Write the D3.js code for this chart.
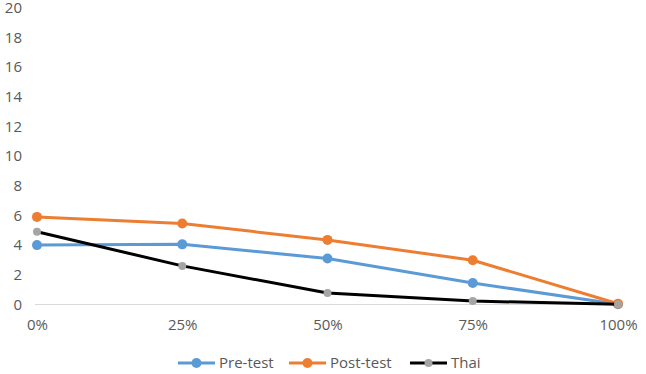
<!DOCTYPE html>
<html>
<head>
<meta charset="utf-8">
<script src="https://cdn.jsdelivr.net/npm/d3@7"></script>
<style>
  body { margin: 0; background: #fff; }
  text { font-family: "Open Sans", "Liberation Sans", sans-serif; fill: #595959; }
</style>
</head>
<body>
<div id="root"></div>
<script>
const categories = ["0%", "25%", "50%", "75%", "100%"];
const preTest = [4.0, 4.05, 3.1, 1.45, 0.02];
const postTest = [5.9, 5.45, 4.35, 2.98, 0.05];
const thai = [4.9, 2.6, 0.77, 0.23, 0.02];
const yTicks = [0, 2, 4, 6, 8, 10, 12, 14, 16, 18, 20];

const width = 646;
const height = 374;

const series = [
  { name: "Pre-test", values: preTest, color: "#5b9bd5", marker: "#5b9bd5", r: 5 },
  { name: "Post-test", values: postTest, color: "#ed7d31", marker: "#ed7d31", r: 5 },
  { name: "Thai", values: thai, color: "#000000", marker: "#a5a5a5", r: 4 }
];

const svg = d3.select("#root")
  .append("svg")
  .attr("width", width)
  .attr("height", height);

const x = d3.scalePoint().domain(categories).range([37, 618]);
const y = d3.scaleLinear().domain([0, 20]).range([304.5, 7.5]);

// y axis labels, no axis line
const yAxis = d3.axisLeft(y).tickValues(yTicks).tickSize(0).tickPadding(0);
svg.append("g")
  .attr("transform", "translate(22,0)")
  .call(yAxis)
  .call(g => g.select(".domain").remove())
  .selectAll("text")
  .style("font-size", "15px")
  .attr("text-anchor", "end")
  .attr("fill", "#595959");

// baseline
svg.append("line")
  .attr("x1", 35).attr("x2", 620)
  .attr("y1", y(0)).attr("y2", y(0))
  .attr("stroke", "#d9d9d9")
  .attr("stroke-width", 1);

// x axis labels
const xAxis = d3.axisBottom(x).tickSize(0).tickPadding(0);
svg.append("g")
  .attr("transform", `translate(0,${y(0) + 13})`)
  .call(xAxis)
  .call(g => g.select(".domain").remove())
  .selectAll("text")
  .style("font-size", "15px")
  .attr("dy", "0.8em")
  .attr("fill", "#595959");

const line = d3.line()
  .x((d, i) => x(categories[i]))
  .y(d => y(d));

// Lines and markers
series.forEach(s => {
  svg.append("path")
    .datum(s.values)
    .attr("d", line)
    .attr("fill", "none")
    .attr("stroke", s.color)
    .attr("stroke-width", 3)
    .attr("stroke-linejoin", "round");
  svg.selectAll(null)
    .data(s.values)
    .join("circle")
    .attr("cx", (d, i) => x(categories[i]))
    .attr("cy", d => y(d))
    .attr("r", s.r)
    .attr("fill", s.marker);
});

// Legend
const legendX = [178, 289, 410];
const legend = svg.append("g").attr("transform", "translate(0,363)");
series.forEach((s, i) => {
  const g = legend.append("g").attr("transform", `translate(${legendX[i]},0)`);
  g.append("line")
    .attr("x1", 0).attr("x2", 37)
    .attr("y1", 0).attr("y2", 0)
    .attr("stroke", s.color)
    .attr("stroke-width", 3);
  g.append("circle")
    .attr("cx", 18.5).attr("cy", 0)
    .attr("r", s.r)
    .attr("fill", s.marker);
  g.append("text")
    .attr("x", 41).attr("y", 0)
    .attr("dy", "0.35em")
    .style("font-size", "15px")
    .text(s.name);
});
</script>
</body>
</html>
